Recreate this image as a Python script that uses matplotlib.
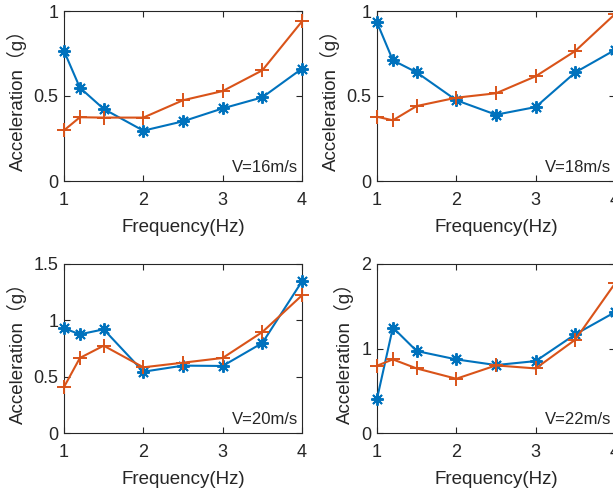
import matplotlib
matplotlib.use("Agg")
import matplotlib.pyplot as plt

freq = [1, 1.2, 1.5, 2, 2.5, 3, 3.5, 4]

blue_v16 = [0.765, 0.549, 0.424, 0.296, 0.351, 0.427, 0.492, 0.661]
orange_v16 = [0.298, 0.375, 0.373, 0.373, 0.475, 0.529, 0.651, 0.939]

blue_v18 = [0.933, 0.710, 0.639, 0.475, 0.390, 0.435, 0.639, 0.771]
orange_v18 = [0.378, 0.357, 0.441, 0.490, 0.516, 0.616, 0.765, 0.982]

blue_v20 = [0.929, 0.876, 0.920, 0.544, 0.598, 0.595, 0.799, 1.346]
orange_v20 = [0.408, 0.666, 0.775, 0.583, 0.624, 0.666, 0.896, 1.222]

blue_v22 = [0.404, 1.248, 0.970, 0.871, 0.804, 0.851, 1.168, 1.430]
orange_v22 = [0.796, 0.871, 0.764, 0.642, 0.800, 0.764, 1.105, 1.770]

labels = ["V=16m/s", "V=18m/s", "V=20m/s", "V=22m/s"]
ylims = [(0, 1), (0, 1), (0, 1.5), (0, 2)]
yticks = [[0, 0.5, 1], [0, 0.5, 1], [0, 0.5, 1, 1.5], [0, 1, 2]]
yticklabels = [["0", "0.5", "1"], ["0", "0.5", "1"], ["0", "0.5", "1", "1.5"], ["0", "1", "2"]]
xticks = [1, 2, 3, 4]

blues = [blue_v16, blue_v18, blue_v20, blue_v22]
oranges = [orange_v16, orange_v18, orange_v20, orange_v22]

BLUE = "#0072BD"
ORANGE = "#D95319"
fam = ["Liberation Sans", "Noto Sans CJK SC", "DejaVu Sans"]
plt.rcParams["font.family"] = fam

fig = plt.figure(figsize=(6.13, 4.92), dpi=100)
W, H = 613, 492
boxes = [
    (64, 11, 238, 170),
    (377, 11, 238, 170),
    (64, 264, 238, 169),
    (377, 264, 238, 169),
]

for i, (l, t, w, h) in enumerate(boxes):
    ax = fig.add_axes([l / W, (H - t - h) / H, w / W, h / H])
    ax.plot(freq, blues[i], color=BLUE, lw=1.5, marker=(8, 2, 0), ms=9, mew=1.4,
            clip_on=False, zorder=3)
    ax.plot(freq, oranges[i], color=ORANGE, lw=1.5, marker="+", ms=10, mew=1.4,
            clip_on=False, zorder=3)
    ax.set_xlim(1, 4)
    ax.set_ylim(*ylims[i])
    ax.set_xticks(xticks)
    ax.set_xticklabels([str(x) for x in xticks])
    ax.set_yticks(yticks[i])
    ax.set_yticklabels(yticklabels[i])
    ax.tick_params(direction="in", top=True, right=True, labelsize=13,
                   colors="#262626", length=4, width=0.8)
    ax.tick_params(axis="x", pad=8)
    ax.tick_params(axis="y", pad=4)
    for s in ax.spines.values():
        s.set_linewidth(0.8)
        s.set_color("#262626")
    ax.set_xlabel("Frequency(Hz)", fontsize=13.5, color="#262626", labelpad=7)
    ax.set_ylabel("Acceleration（g）", fontsize=13.5, color="#262626", labelpad=5)
    ax.text(0.985, 0.035, labels[i], transform=ax.transAxes, ha="right", va="bottom",
            fontsize=12, color="#262626")

fig.savefig("out.png", dpi=100)
